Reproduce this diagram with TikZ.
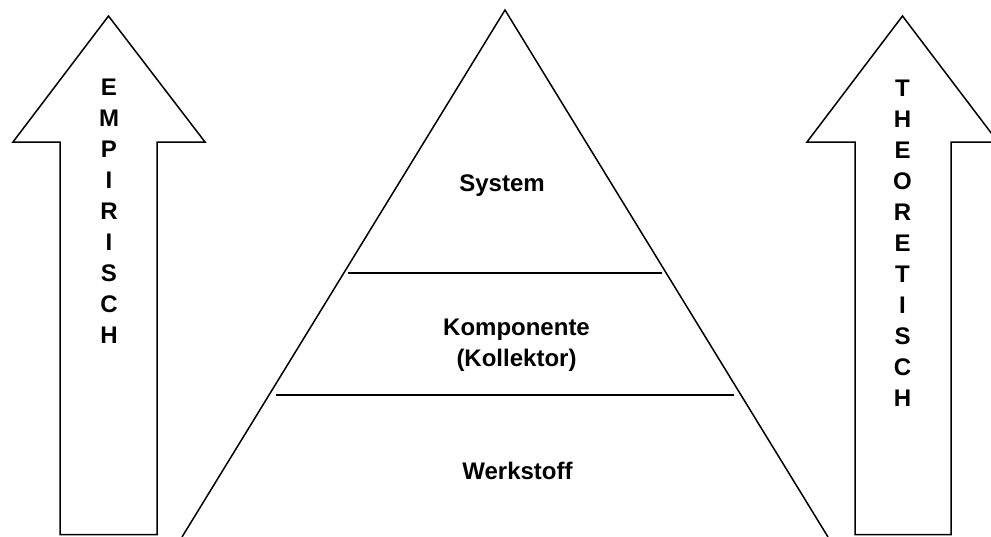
\documentclass[tikz,border=0pt]{standalone}
\usepackage{fontspec}
\setmainfont{Liberation Sans}
\usepackage{tikz}
\usetikzlibrary{positioning}

\tikzset{
  outline/.style={draw=black, line width=1.5pt, line join=miter},
  level/.style={font=\bfseries\fontsize{24}{30.5}\selectfont, align=center, inner sep=0pt},
  stack/.style={font=\bfseries\fontsize{24}{31}\selectfont, align=center, inner sep=0pt}
}

\begin{document}
\begin{tikzpicture}[x=1pt, y=-1pt]
  \useasboundingbox (0,0) rectangle (991,536);
  % arrows
  \draw[outline] (60,534.5) -- (60,142) -- (13,142) -- (108.5,16) -- (205,142)
    -- (157,142) -- (157,534.5) -- cycle;
  \draw[outline] (855,534.5) -- (855,142) -- (807,142) -- (902.5,16) -- (998,142)
    -- (951,142) -- (951,534.5) -- cycle;
  % pyramid
  \coordinate (apex) at (505,10);
  \coordinate (bl) at (182,537);
  \coordinate (br) at (828,537);
  \draw[outline] (bl) -- (apex) -- (br);
  \coordinate (u-l) at (348,273);
  \coordinate (u-r) at (662,273);
  \coordinate (d-l) at (276,395);
  \coordinate (d-r) at (734,395);
  \draw[outline] (u-l) -- (u-r);
  \draw[outline] (d-l) -- (d-r);
  % labels
  \node[level] (system) at (502,186) {System};
  \node[level] (komp) at (516.5,345) {Komponente\\(Kollektor)};
  \node[level] (werk) at (517.5,471) {Werkstoff};
  \node[stack] (emp) at (109,211) {E\\M\\P\\I\\R\\I\\S\\C\\H};
  \node[stack] (theo) at (902.5,243) {T\\H\\E\\O\\R\\E\\T\\I\\S\\C\\H};
\end{tikzpicture}
\end{document}
